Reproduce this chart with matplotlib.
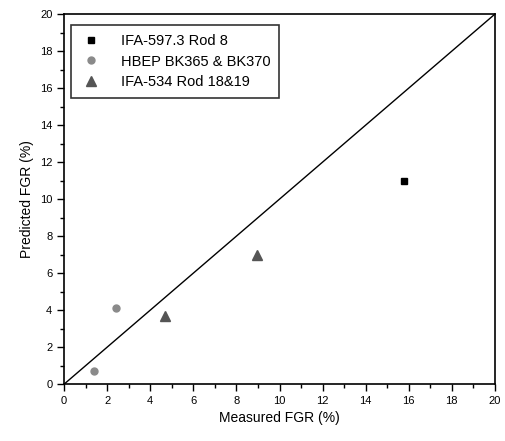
import numpy as np
import matplotlib.pyplot as plt
from matplotlib.ticker import MultipleLocator

plt.rcParams['font.family'] = ['Liberation Sans', 'DejaVu Sans']

# measured vs predicted FGR (%)
ifa597_x = [15.8]
ifa597_y = [11.0]
hbep_x = [1.4, 2.4]
hbep_y = [0.7, 4.1]
ifa534_x = [4.7, 8.95]
ifa534_y = [3.7, 7.0]

fig = plt.figure(figsize=(5.05, 4.41), dpi=100)
ax = fig.add_axes([0.127, 0.129, 0.853, 0.839])

ax.plot([0, 20], [0, 20], color='black', lw=1.0)
ax.plot(ifa597_x, ifa597_y, 's', color='black', ms=4.5, label='IFA-597.3 Rod 8')
ax.plot(hbep_x, hbep_y, 'o', color='#8a8a8a', ms=5, label='HBEP BK365 & BK370')
ax.plot(ifa534_x, ifa534_y, '^', color='#555555', ms=7, label='IFA-534 Rod 18&19')

ax.set_xlim(0, 20)
ax.set_ylim(0, 20)
ax.xaxis.set_major_locator(MultipleLocator(2))
ax.yaxis.set_major_locator(MultipleLocator(2))
ax.xaxis.set_minor_locator(MultipleLocator(1))
ax.yaxis.set_minor_locator(MultipleLocator(1))
ax.tick_params(which='major', direction='out', length=5, width=1, labelsize=8)
ax.tick_params(which='minor', direction='out', length=3, width=1)
for s in ax.spines.values():
    s.set_linewidth(1.2)

ax.set_xlabel('Measured FGR (%)', fontsize=10)
ax.set_ylabel('Predicted FGR (%)', fontsize=10)
leg = ax.legend(loc='upper left', bbox_to_anchor=(0.016, 0.97), borderaxespad=0,
                fontsize=10.5, frameon=True, fancybox=False, edgecolor='black',
                borderpad=0.6, labelspacing=0.45, handlelength=1.6,
                handletextpad=1.2)
leg.get_frame().set_linewidth(1.2)

plt.savefig('out.png', dpi=100)
